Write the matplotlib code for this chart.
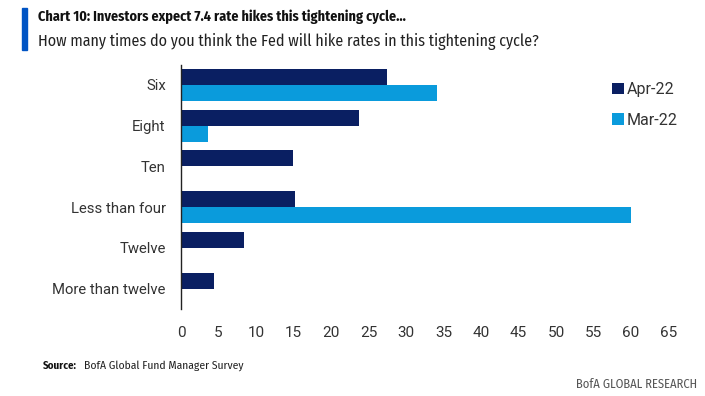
import matplotlib
matplotlib.use("Agg")
import matplotlib.pyplot as plt
import numpy as np
from matplotlib.patches import Rectangle

categories = ["Six", "Eight", "Ten", "Less than four", "Twelve", "More than twelve"]
apr_22 = [27.4, 23.7, 14.9, 15.2, 8.4, 4.4]
mar_22 = [34.1, 3.6, 0, 60.0, 0, 0]
xticks = list(range(0, 70, 5))

NAVY = "#0a1f62"
LIGHT = "#0a9bdc"
TEXT = "#333333"
NARROW = ["Fira Sans Condensed", "Barlow Semi Condensed", "Archivo Narrow", "DejaVu Sans"]
plt.rcParams["font.family"] = ["Roboto", "DejaVu Sans"]

W, H = 705, 396
fig = plt.figure(figsize=(W / 100, H / 100), dpi=100)
fig.patch.set_facecolor("white")
renderer = fig.canvas.get_renderer()


def fit_text(x, y, s, right, size, **kw):
    # place text starting at pixel x and shrink/grow it so it ends near pixel `right`
    t = fig.text(x / W, 1 - y / H, s, fontsize=size, va="center", ha="left", **kw)
    w = t.get_window_extent(renderer).width
    t.set_fontsize(size * (right - x) / w)
    return t


ax = fig.add_axes([181 / W, 1 - 309 / H, (668.5 - 181) / W, (309 - 64.5) / H])
y = np.arange(len(categories))
h = 0.393
ax.barh(y - h / 2, apr_22, height=h, color=NAVY, linewidth=0, label="Apr-22")
ax.barh(y + h / 2, mar_22, height=h, color=LIGHT, linewidth=0, label="Mar-22")
ax.set_ylim(len(categories) - 0.5, -0.5)
ax.set_xlim(0, 65)
ax.set_yticks(y)
ax.set_yticklabels(categories, fontsize=10.7, color=TEXT)
ax.set_xticks(xticks)
ax.set_xticklabels([str(t) for t in xticks], fontsize=11, color=TEXT)
ax.tick_params(axis="both", length=0)
ax.tick_params(axis="y", pad=11)
ax.tick_params(axis="x", pad=12)
for s in ["top", "right", "bottom"]:
    ax.spines[s].set_visible(False)
ax.spines["left"].set_color("#222222")
ax.spines["left"].set_linewidth(1.0)

leg = fig.legend(loc="upper left", bbox_to_anchor=(606 / W, 1 - 76 / H),
                 frameon=False, fontsize=11.5, handlelength=0.7, handleheight=0.7,
                 handletextpad=0.2, labelspacing=0.95, borderaxespad=0)
for t in leg.get_texts():
    t.set_color(TEXT)

# header
fig.patches.append(Rectangle((22 / W, 1 - 50 / H), 5 / W, 42 / H,
                             transform=fig.transFigure, color="#0054c4"))
fit_text(38, 17, "Chart 10: Investors expect 7.4 rate hikes this tightening cycle...", 405, 13,
         fontweight="bold", color="#111111", family=NARROW)
fit_text(38, 41, "How many times do you think the Fed will hike rates in this tightening cycle?", 540, 13,
         color="#222222", family=NARROW)

# footer
fit_text(43, 366, "Source:", 77, 8, fontweight="bold", color="#111111", family=NARROW)
fit_text(84, 366, "BofA Global Fund Manager Survey", 244, 8, color="#222222", family=NARROW)
fig.text(697 / W, 1 - 384 / H, "BofA GLOBAL RESEARCH", fontsize=9, color="#555555",
         va="center", ha="right", family=NARROW)

fig.savefig("out.png", dpi=100, facecolor="white")
plt.close(fig)
